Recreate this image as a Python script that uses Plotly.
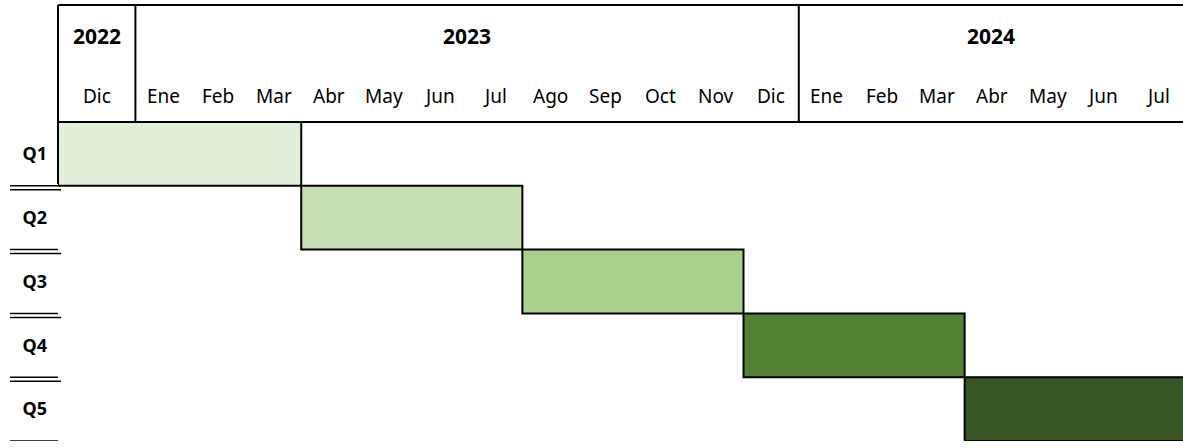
import plotly.graph_objects as go

# ---- data ----
month_labels = ["Dic", "Ene", "Feb", "Mar", "Abr", "May", "Jun", "Jul", "Ago", "Sep",
                "Oct", "Nov", "Dic", "Ene", "Feb", "Mar", "Abr", "May", "Jun", "Jul"]
month_years = [2022] + [2023] * 12 + [2024] * 7
phases = ["Q1", "Q2", "Q3", "Q4", "Q5"]
start_months = ["Dic 2022", "Abr 2023", "Ago 2023", "Dic 2023", "Abr 2024"]
end_months = ["Mar 2023", "Jul 2023", "Nov 2023", "Mar 2024", "Jul 2024"]
phase_colors = ["#E2EFDA", "#C6E0B4", "#A9D08E", "#548235", "#375623"]

# ---- layout constants ----
W, H = 1183, 448
M_L, M_T, M_B = 58, 122, 7
X_MIN, X_MAX = -0.40, 19.95          # first column drawn wider
FONT = "Noto Sans"

keys = [f"{m} {y}" for m, y in zip(month_labels, month_years)]
idx = {k: i for i, k in enumerate(keys)}


def col_left(i):
    return X_MIN if i == 0 else i


starts = [col_left(idx[s]) for s in start_months]
ends = [idx[e] + 1 for e in end_months]

fig = go.Figure()
for p, s, e, c in zip(phases, starts, ends, phase_colors):
    fig.add_trace(go.Bar(
        y=[p], x=[e - s], base=[s], orientation="h", width=1,
        marker=dict(color=c, line=dict(color="black", width=2)),
        showlegend=False, hoverinfo="skip",
    ))

plot_h = H - M_T - M_B


def py(pix):
    """pixel-from-top -> paper y"""
    return (H - M_B - pix) / plot_h


shapes = []
line = dict(color="black", width=2)
# header top + bottom lines
shapes.append(dict(type="line", xref="paper", yref="paper", x0=0, x1=1,
                   y0=py(5), y1=py(5), line=line))
shapes.append(dict(type="line", xref="paper", yref="paper", x0=0, x1=1,
                   y0=1, y1=1, line=line))
# left border of header and first row
shapes.append(dict(type="line", xref="paper", yref="paper", x0=0, x1=0,
                   y0=py(5), y1=py(184), line=line))
# year dividers in header
years = sorted(set(month_years))
year_first = [month_years.index(y) for y in years]
for fi in year_first[1:]:
    shapes.append(dict(type="line", xref="x", yref="paper", x0=fi, x1=fi,
                       y0=py(5), y1=1, line=line))

# double rules under each row label
for k in range(len(phases)):
    b = k + 0.5
    shapes.append(dict(type="line", xref="paper", yref="y", xsizemode="pixel",
                       xanchor=0, x0=-48, x1=0, ysizemode="pixel", yanchor=b,
                       y0=0, y1=0, line=dict(color="black", width=1.5)))
    shapes.append(dict(type="line", xref="paper", yref="y", xsizemode="pixel",
                       xanchor=0, x0=-48, x1=3, ysizemode="pixel", yanchor=b,
                       y0=-4, y1=-4, line=dict(color="black", width=1.5)))

annotations = []
# year labels
bounds = year_first + [len(keys)]
for j, y in enumerate(years):
    a = col_left(bounds[j])
    bnd = min(bounds[j + 1], X_MAX)
    annotations.append(dict(xref="x", yref="paper", x=(a + bnd) / 2, y=py(36),
                            xanchor="center", yanchor="middle",
                            text=f"<b>{y}</b>", showarrow=False,
                            font=dict(family=FONT, size=21, color="black")))
# month labels
for i, m in enumerate(month_labels):
    annotations.append(dict(xref="x", yref="paper", x=(col_left(i) + i + 1) / 2,
                            y=py(96), xanchor="center", yanchor="middle",
                            text=m, showarrow=False,
                            font=dict(family=FONT, size=19, color="black")))

fig.update_layout(
    width=W, height=H,
    margin=dict(l=M_L, r=0, t=M_T, b=M_B),
    paper_bgcolor="white", plot_bgcolor="white",
    barmode="overlay",
    shapes=shapes, annotations=annotations,
    xaxis=dict(range=[X_MIN, X_MAX], showgrid=False, zeroline=False,
               showticklabels=False, showline=False, fixedrange=True),
    yaxis=dict(categoryorder="array", categoryarray=phases,
               range=[len(phases) - 0.5, -0.5], showgrid=False, zeroline=False,
               showline=False, ticks="", ticklabelstandoff=10, fixedrange=True,
               tickvals=phases, ticktext=[f"<b>{p}</b>" for p in phases],
               tickfont=dict(family=FONT, size=18, color="black")),
)

fig.write_html(
    "out.html",
    config={"displayModeBar": False},
    post_script="document.body.style.margin='0';document.body.style.overflow='hidden';",
)
